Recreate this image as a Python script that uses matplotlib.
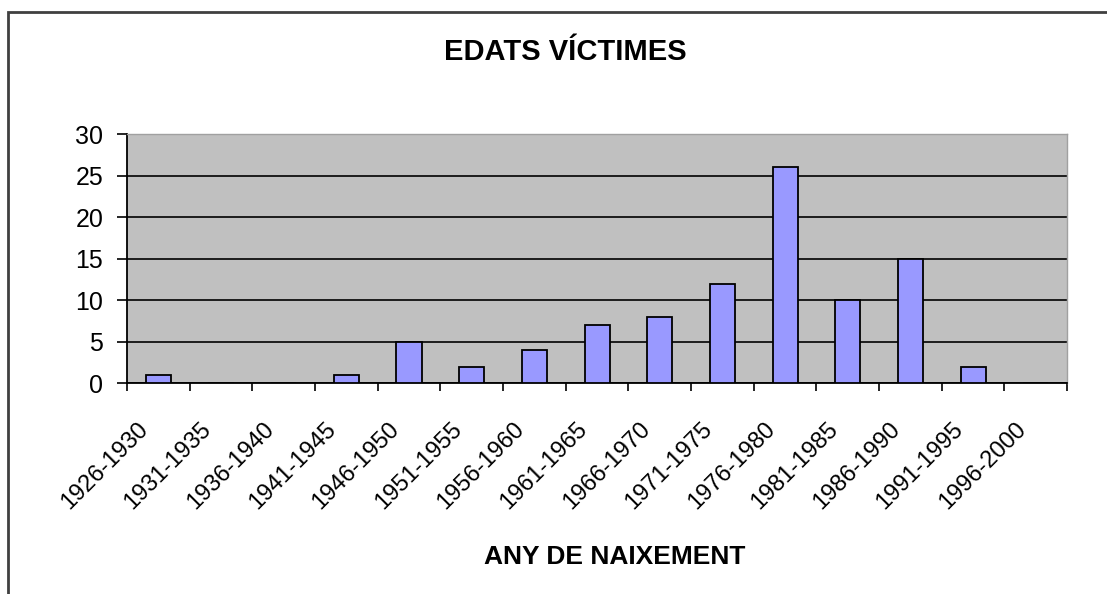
import matplotlib.pyplot as plt
from matplotlib.patches import Rectangle
from matplotlib.transforms import ScaledTranslation
import numpy as np

plt.rcParams['font.family'] = ['Liberation Sans', 'DejaVu Sans']

periodes = ['1926-1930', '1931-1935', '1936-1940', '1941-1945', '1946-1950',
            '1951-1955', '1956-1960', '1961-1965', '1966-1970', '1971-1975',
            '1976-1980', '1981-1985', '1986-1990', '1991-1995', '1996-2000']
victimes = [1, 0, 0, 1, 5, 2, 4, 7, 8, 12, 26, 10, 15, 2, 0]
y_ticks = [0, 5, 10, 15, 20, 25, 30]

fig = plt.figure(figsize=(11.07, 5.94), dpi=100)
ax = fig.add_axes([0.1147, 0.355, 0.964 - 0.1147, 0.774 - 0.355])

# marc exterior del gràfic
fig.patches.append(Rectangle((0.0072, -0.1), 1.2, 0.1 + 0.98, transform=fig.transFigure,
                             fill=False, edgecolor='#404040', linewidth=2))

x = np.arange(len(periodes))
ax.set_facecolor('#C0C0C0')
ax.bar(x, victimes, width=0.4, color='#9999FF', edgecolor='black', linewidth=1.3, zorder=3)

ax.set_xlim(-0.5, len(periodes) - 0.5)
ax.set_ylim(0, 30)
ax.set_yticks(y_ticks)
ax.yaxis.grid(True, color='black', linewidth=1.2, zorder=1)
ax.set_axisbelow(True)

ax.set_xticks(np.arange(len(periodes) + 1) - 0.5)
ax.set_xticklabels([])
ax.set_xticks(x, minor=True)
ax.set_xticklabels(periodes, minor=True, rotation=45, ha='right', va='top',
                   rotation_mode='anchor', fontsize=17)
ax.tick_params(axis='x', which='minor', length=0, pad=25)
ax.tick_params(axis='x', which='major', length=6, width=1.2, direction='out')
ax.tick_params(axis='y', length=7, width=1.2, direction='out', labelsize=18, pad=10)

# desplaçar les etiquetes una mica a l'esquerra, com a l'original
despl = ScaledTranslation(-0.21, 0, fig.dpi_scale_trans)
for etiqueta in ax.get_xticklabels(minor=True):
    etiqueta.set_transform(etiqueta.get_transform() + despl)

for s in ['left', 'bottom']:
    ax.spines[s].set_color('black')
    ax.spines[s].set_linewidth(1.3)
for s in ['top', 'right']:
    ax.spines[s].set_color('#A0A0A0')
    ax.spines[s].set_linewidth(1)

fig.text(0.511, 0.912, 'EDATS VÍCTIMES', ha='center', va='center', fontsize=21, fontweight='bold')
fig.text(0.555, 0.062, 'ANY DE NAIXEMENT', ha='center', va='center', fontsize=19, fontweight='bold')

fig.savefig('out.png', dpi=100)
